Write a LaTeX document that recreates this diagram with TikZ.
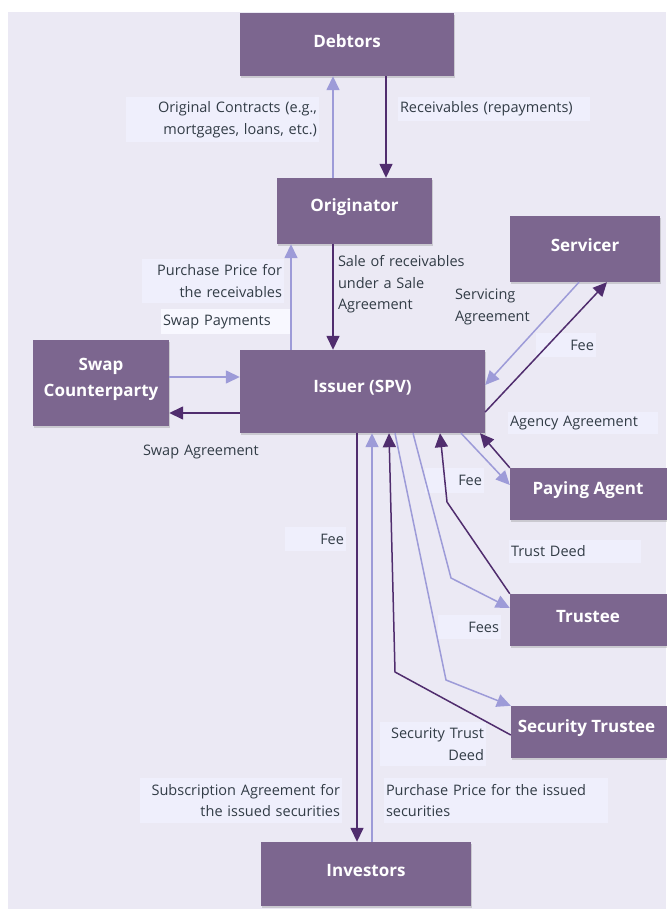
\documentclass[tikz,border=0pt]{standalone}
\usepackage{fontspec}
\setmainfont{Open Sans}
\usetikzlibrary{arrows.meta,shadows}
\definecolor{bgc}{RGB}{235,233,244}
\definecolor{boxc}{RGB}{124,102,143}
\definecolor{darkc}{RGB}{80,45,110}
\definecolor{lightc}{RGB}{157,155,216}
\definecolor{lblfill}{RGB}{239,239,252}
\definecolor{lblwhite}{RGB}{248,248,255}
\definecolor{txtc}{RGB}{50,60,70}
\begin{document}
\begin{tikzpicture}[x=1pt,y=-1pt,
  box/.style={draw=none, fill=boxc, inner sep=0pt,
    drop shadow={shadow xshift=1pt, shadow yshift=-2pt, opacity=0.3}},
  boxtext/.style={text=white, font=\fontsize{17}{26}\selectfont\bfseries, align=center, yshift=3.5pt},
  lbl/.style={fill=lblfill, text=txtc, font=\fontsize{14.5}{21.5}\selectfont, inner xsep=2pt, inner ysep=0pt},
  lblnf/.style={lbl, fill=none},
  darkarr/.style={draw=darkc, line width=1.5pt, -{Triangle[length=14pt,width=13pt]}},
  lightarr/.style={draw=lightc, line width=1.5pt, -{Triangle[length=14pt,width=13pt]}},
]
\useasboundingbox (0,0) rectangle (666,909);
\fill[white] (0,0) rectangle (666,909);
\fill[bgc] (8,12) rectangle (666,909);

% edge labels
\node[lbl, text width=189pt, align=right, minimum height=45pt] (lorig) at (222.5,119.5) {Original Contracts (e.g.,\\mortgages, loans, etc.)};
\node[lbl, text width=188pt, align=left, minimum height=24pt] (lrecv) at (494,109) {Receivables (repayments)};
\node[lbl, text width=138pt, align=right, minimum height=44pt] (lpp) at (213,281) {Purchase Price for\\the receivables};
\node[lbl, fill=lblwhite, text width=126pt, align=left, minimum height=25pt] (lswappay) at (226,321.5) {Swap Payments};
\node[lblnf, text width=130pt, align=left] (lsale) at (403,284.5) {Sale of receivables\\under a Sale\\Agreement};
\node[lblnf, text width=90pt, align=left] (lserv) at (500,307) {Servicing\\Agreement};
\node[lbl, text width=56pt, align=right, minimum height=24pt] (lfee1) at (566,345) {Fee};
\node[lbl, text width=146pt, align=left, minimum height=22pt] (lagency) at (583,423) {Agency Agreement};
\node[lblnf, text width=120pt, align=left] (lswapagr) at (203,452) {Swap Agreement};
\node[lbl, text width=55pt, align=right, minimum height=25pt] (lfee2) at (454.5,480.5) {Fee};
\node[lbl, text width=57pt, align=right, minimum height=24pt] (lfee3) at (315.5,539) {Fee};
\node[lbl, text width=128pt, align=left, minimum height=23pt] (ltrust) at (575,551.5) {Trust Deed};
\node[lbl, text width=59pt, align=right, minimum height=24pt] (lfees) at (469.5,627) {Fees};
\node[lbl, text width=102pt, align=right, minimum height=44pt] (lsectd) at (433,744) {Security Trust\\Deed};
\node[lbl, text width=198pt, align=right, minimum height=45pt] (lsubs) at (241,800.5) {Subscription Agreement for\\the issued securities};
\node[lbl, text width=220pt, align=left, minimum height=45pt] (lppis) at (496,800.5) {Purchase Price for the issued\\securities};

% boxes
\node[box, minimum width=214pt, minimum height=63pt, label={[boxtext]center:Debtors}] (debtors) at (347,44.5) {};
\node[box, minimum width=155pt, minimum height=66pt, label={[boxtext]center:Originator}] (originator) at (354.5,211) {};
\node[box, minimum width=150pt, minimum height=66pt, label={[boxtext]center:Servicer}] (servicer) at (585,249) {};
\node[box, minimum width=136pt, minimum height=86pt, label={[boxtext]center:Swap\\Counterparty}] (swap) at (101,383) {};
\node[box, minimum width=245pt, minimum height=83pt, label={[boxtext]center:Issuer (SPV)}] (issuer) at (362.5,391.5) {};
\node[box, minimum width=160pt, minimum height=52pt, label={[boxtext, xshift=-2pt]center:Paying Agent}] (paying) at (590,494) {};
\node[box, minimum width=160pt, minimum height=52pt, label={[boxtext, xshift=-2pt]center:Trustee}] (trustee) at (590,620) {};
\node[box, minimum width=159pt, minimum height=52pt, label={[boxtext, xshift=-4pt]center:Security Trustee}] (sectrustee) at (590.5,732) {};
\node[box, minimum width=210pt, minimum height=64pt, label={[boxtext]center:Investors}] (investors) at (366,874) {};

% bend points
\coordinate (bt1) at (447,502);
\coordinate (bt2) at (451,578);
\coordinate (bs1) at (395,672);
\coordinate (bs2) at (446,680);

% connectors
\draw[lightarr] (originator.north -| 333,0) -- (debtors.south -| 333,0);
\draw[darkarr] (debtors.south -| 386,0) -- (originator.north -| 386,0);
\draw[lightarr] (issuer.north -| 291,0) -- (originator.south -| 291,0);
\draw[darkarr] (originator.south -| 333,0) -- (issuer.north -| 333,0);
\draw[lightarr] (swap.east |- 0,377) -- (issuer.west |- 0,377);
\draw[darkarr] (issuer.west |- 0,413) -- (swap.east |- 0,413);
\draw[lightarr] (servicer.south -| 579,0) -- (issuer.east |- 0,385);
\draw[darkarr] (issuer.east |- 0,412) -- (servicer.south -| 607,0);
\draw[darkarr] (paying.north west) -- (issuer.south -| 480,0);
\draw[lightarr] (issuer.south -| 461,0) -- (paying.west |- 0,485);
\draw[darkarr] (trustee.north west) -- (bt1) -- (issuer.south -| 440,0);
\draw[lightarr] (issuer.south -| 413,0) -- (bt2) -- (trustee.west |- 0,608);
\draw[darkarr] (sectrustee.west |- 0,735) -- (bs1) -- (issuer.south -| 389,0);
\draw[lightarr] (issuer.south -| 395,0) -- (bs2) -- (sectrustee.north west);
\draw[darkarr] (issuer.south -| 357,0) -- (investors.north -| 357,0);
\draw[lightarr] (investors.north -| 372,0) -- (issuer.south -| 372,0);
\end{tikzpicture}
\end{document}
